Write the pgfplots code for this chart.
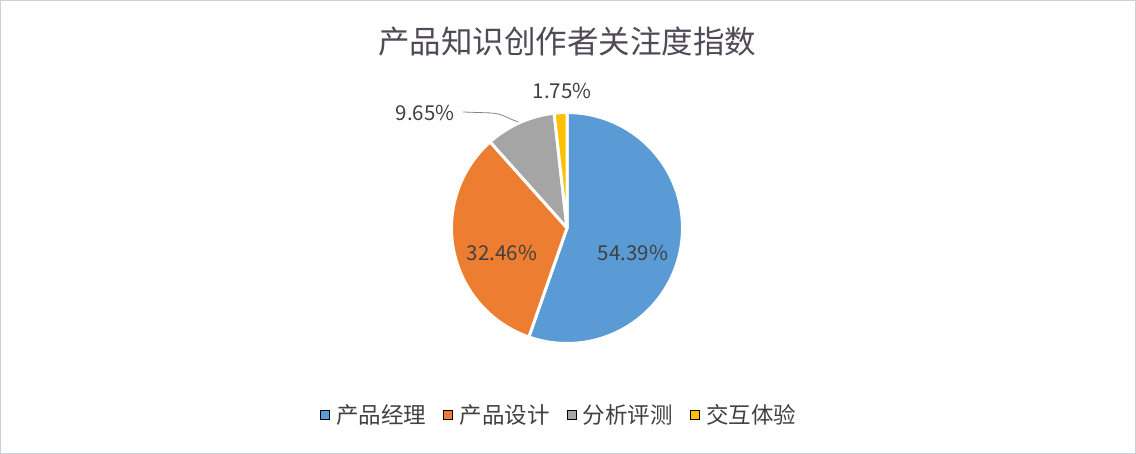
\documentclass[border=0pt]{standalone}
\usepackage{fontspec}
\setmainfont{Noto Sans CJK SC}
\usepackage{pgfplots}
\usepackage{pgfplotstable}
\pgfplotsset{compat=1.18}

\definecolor{pie0}{HTML}{5B9BD5}
\definecolor{pie1}{HTML}{ED7D31}
\definecolor{pie2}{HTML}{A5A5A5}
\definecolor{pie3}{HTML}{FFC000}
\definecolor{titlecol}{HTML}{4F4A55}
\definecolor{textcol}{HTML}{404040}
\definecolor{framecol}{HTML}{CDD1D6}

\pgfplotstableread{
name value
产品经理 54.39
产品设计 32.46
分析评测 9.65
交互体验 1.75
}\piedata

% total and start/end angles of each slice, clockwise from 12 o'clock
\gdef\pietotal{0}
\pgfplotstableforeachcolumnelement{value}\of\piedata\as\v{%
  \pgfmathsetmacro\tmp{\pietotal+\v}\xdef\pietotal{\tmp}}
\gdef\piecum{0}
\pgfplotstableforeachcolumnelement{value}\of\piedata\as\v{%
  \pgfmathsetmacro\a{90-\piecum/\pietotal*360}%
  \pgfmathsetmacro\c{\piecum+\v}\xdef\piecum{\c}%
  \pgfmathsetmacro\b{90-\piecum/\pietotal*360}%
  \expandafter\xdef\csname pieA\pgfplotstablerow\endcsname{\a}%
  \expandafter\xdef\csname pieB\pgfplotstablerow\endcsname{\b}%
  \expandafter\xdef\csname pieV\pgfplotstablerow\endcsname{\v}}

\begin{document}
\begin{tikzpicture}
\begin{axis}[
  x=1pt, y=1pt, scale only axis,
  xmin=0, xmax=1136, ymin=0, ymax=454,
  hide axis, clip=false,
  legend image code/.code={\fill[#1] (0pt,-4.5pt) rectangle (9pt,4.5pt);
    \path (14pt,0pt);},
  legend columns=4,
  legend style={draw=none, fill=none, at={(axis cs:559,39)}, anchor=center,
    font=\fontsize{22.5}{25}\selectfont, text=textcol,
    /tikz/every even column/.append style={column sep=15pt}},
]
  \draw[framecol, line width=1pt] (0.5,0.5) rectangle (1135.5,453.5);

  \pgfplotsinvokeforeach{0,...,3}{
    \filldraw[fill=pie#1, draw=white, line width=3pt, line join=round]
      (567,226) -- ++(\csname pieA#1\endcsname:115.5pt)
      arc[start angle=\csname pieA#1\endcsname,
          end angle=\csname pieB#1\endcsname, radius=115.5pt] -- cycle;
  }

  \addlegendimage{fill=pie0}\addlegendentry{产品经理}
  \addlegendimage{fill=pie1}\addlegendentry{产品设计}
  \addlegendimage{fill=pie2}\addlegendentry{分析评测}
  \addlegendimage{fill=pie3}\addlegendentry{交互体验}

  \node[font=\fontsize{31.5}{36}\selectfont, text=titlecol] at (axis cs:567,412)
    {产品知识创作者关注度指数};

  \begin{scope}[every node/.style={font=\fontsize{20.5}{24}\selectfont, text=textcol}]
    \node at (axis cs:633,201) {\csname pieV0\endcsname\%};
    \node at (axis cs:502,201) {\csname pieV1\endcsname\%};
    \node at (axis cs:425,341) {\csname pieV2\endcsname\%};
    \node at (axis cs:562,363) {\csname pieV3\endcsname\%};
  \end{scope}
  \draw[pie2!80!black, line width=0.8pt] (463,342) -- (492,341)
    to[out=-5,in=160] (518,332);
\end{axis}
\end{tikzpicture}
\end{document}
